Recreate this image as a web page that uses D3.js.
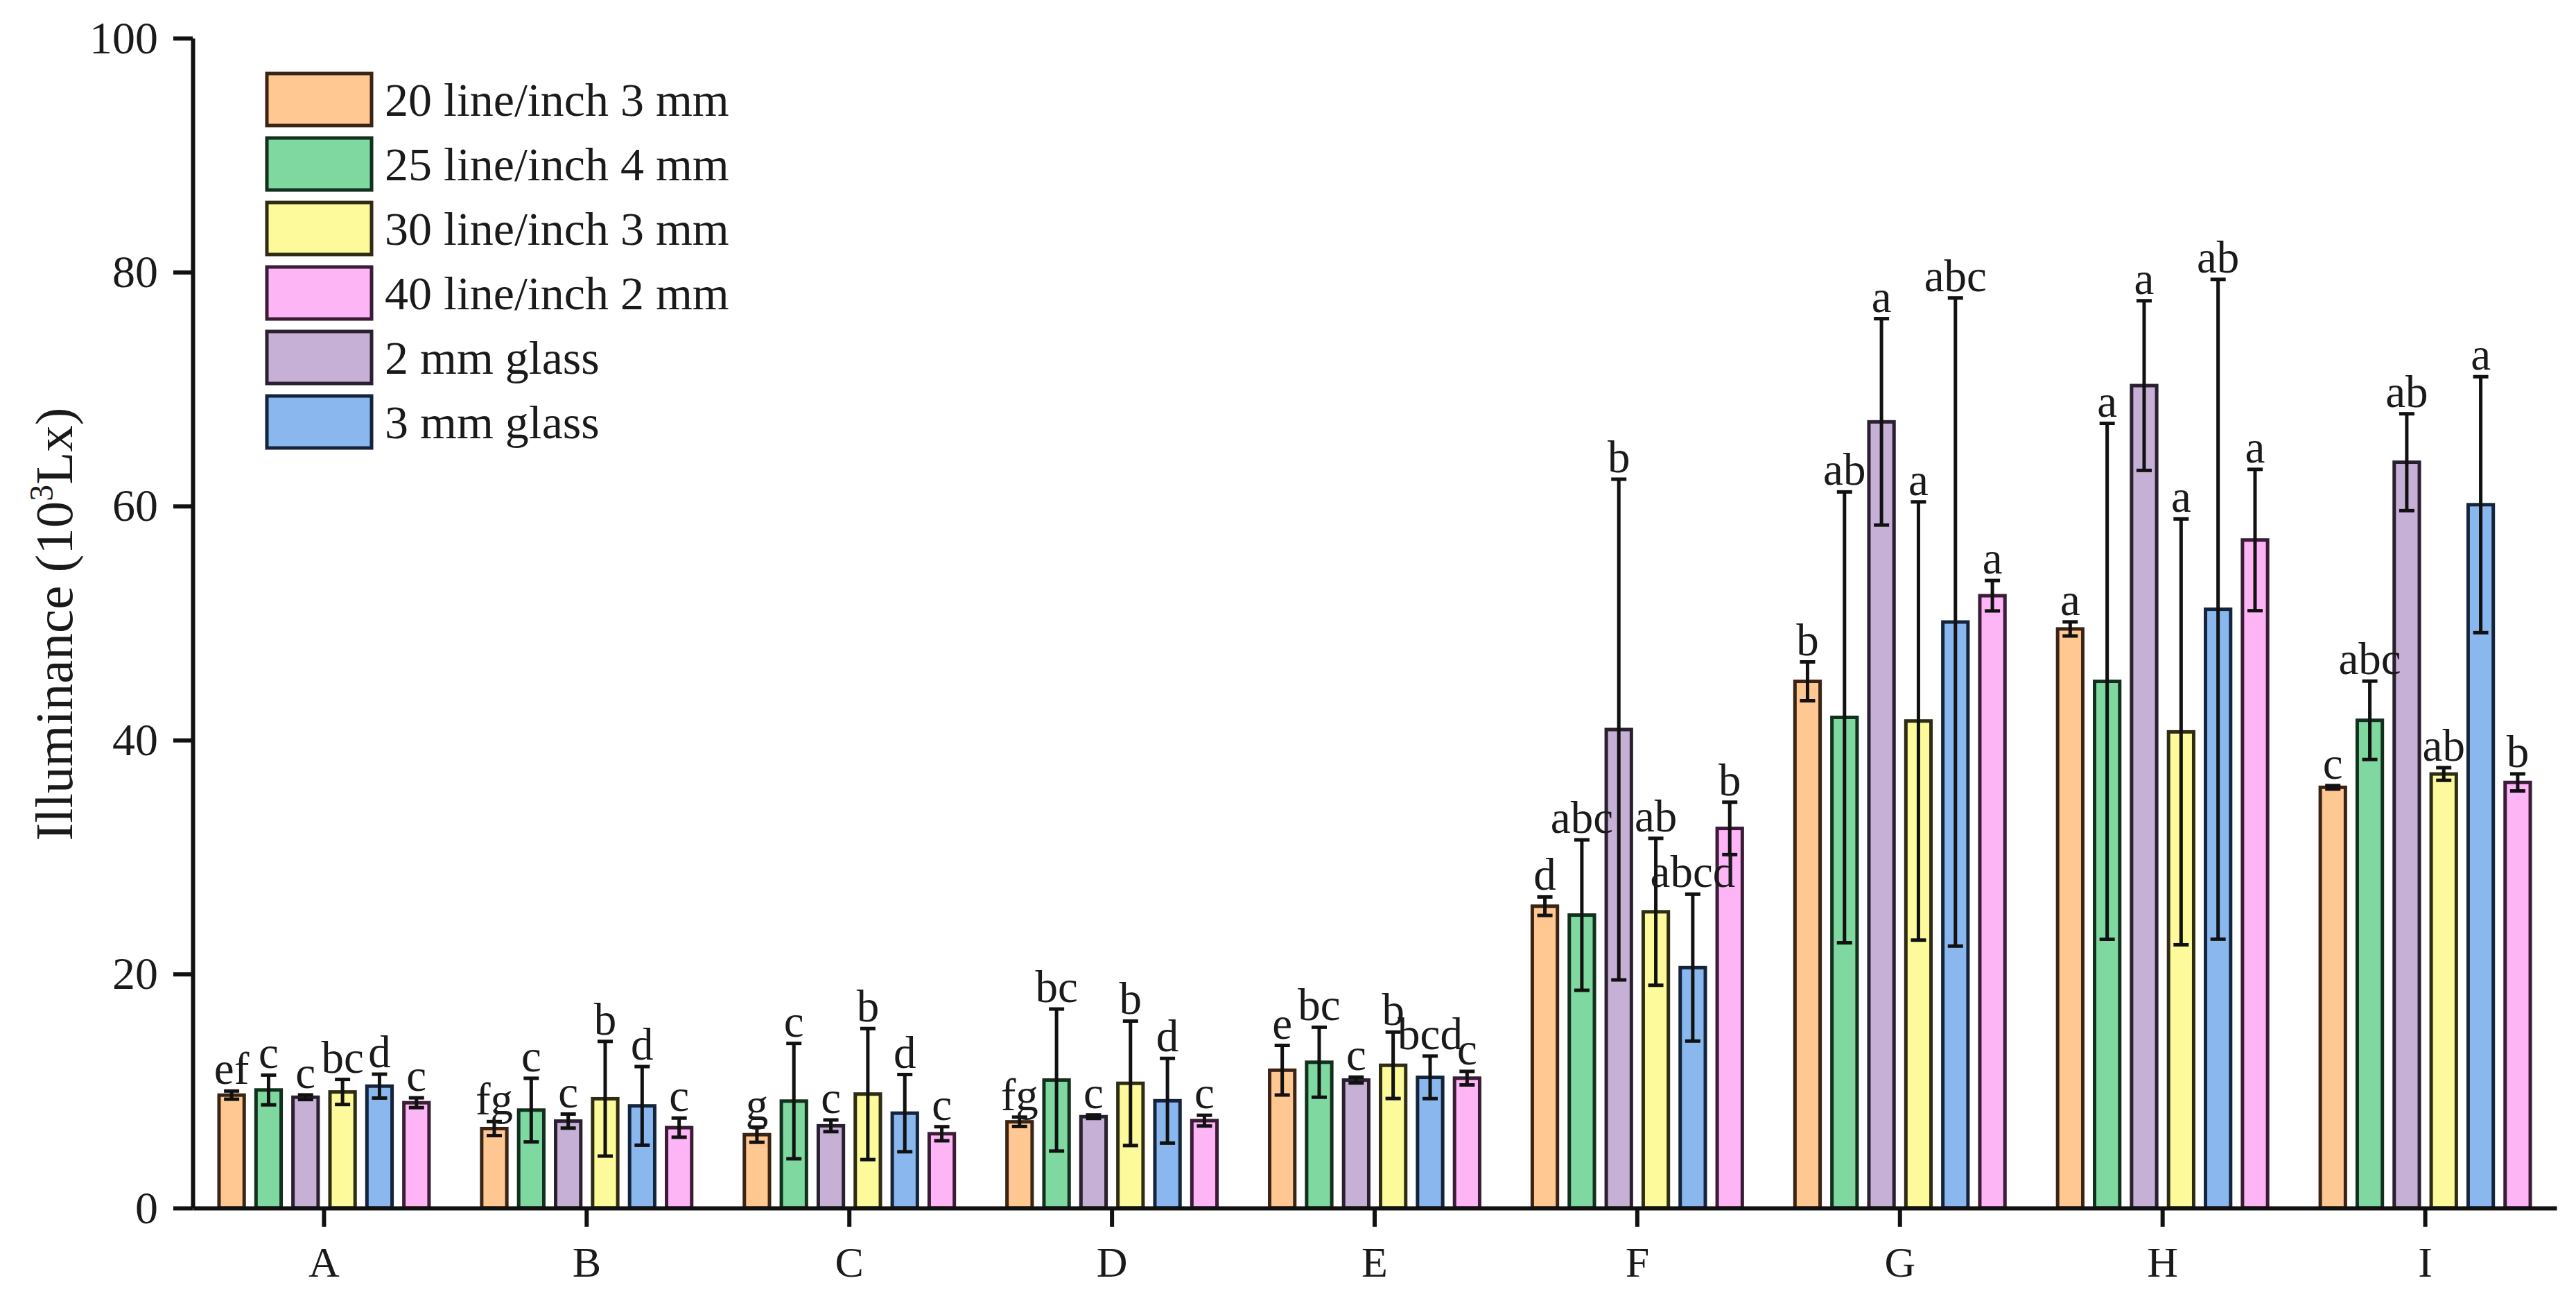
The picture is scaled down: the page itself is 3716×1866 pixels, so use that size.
<!DOCTYPE html>
<html>
<head>
<meta charset="utf-8">
<script src="https://cdn.jsdelivr.net/npm/d3@7"></script>
<style>
  body { margin: 0; background: #fff; }
  text { font-family: "Liberation Serif", "Times New Roman", serif; fill: #1a1a1a; }
</style>
</head>
<body>
<div id="chart"></div>
<script>
// Illuminance per site, six cover types
var categories = ["A", "B", "C", "D", "E", "F", "G", "H", "I"];

// bar order inside each group
var seriesKeys = ["s20", "s25", "g2", "s30", "g3", "s40"];
var seriesNames = {
  s20: "20 line/inch 3 mm",
  s25: "25 line/inch 4 mm",
  s30: "30 line/inch 3 mm",
  s40: "40 line/inch 2 mm",
  g2: "2 mm glass",
  g3: "3 mm glass"
};
// legend order
var legendKeys = ["s20", "s25", "s30", "s40", "g2", "g3"];

var s20 = [9.65, 6.79, 6.27, 7.37, 11.78, 25.8, 45.02, 49.5, 35.96];
var s25 = [10.09, 8.37, 9.14, 10.94, 12.46, 25.04, 41.94, 45.02, 41.69];
var g2  = [9.47, 7.43, 7.03, 7.81, 10.94, 40.9, 67.2, 70.3, 63.75];
var s30 = [9.92, 9.34, 9.74, 10.66, 12.2, 25.32, 41.63, 40.7, 37.1];
var g3  = [10.42, 8.73, 8.11, 9.17, 11.17, 20.55, 50.09, 51.18, 60.12];
var s40 = [9.0, 6.87, 6.35, 7.47, 11.1, 32.45, 52.34, 57.1, 36.38];

var s20Err = [0.35, 0.6, 0.65, 0.4, 2.12, 0.79, 1.66, 0.6, 0.15];
var s25Err = [1.27, 2.72, 4.93, 6.07, 2.99, 6.43, 19.27, 22.05, 3.35];
var g2Err  = [0.2, 0.6, 0.5, 0.15, 0.25, 21.4, 8.82, 7.25, 4.14];
var s30Err = [1.07, 4.9, 5.6, 5.32, 2.84, 6.28, 18.73, 18.2, 0.54];
var g3Err  = [1.02, 3.36, 3.3, 3.62, 1.82, 6.28, 27.7, 28.2, 10.94];
var s40Err = [0.42, 0.82, 0.6, 0.46, 0.58, 2.24, 1.3, 6.04, 0.73];

var s20Sig = ["ef", "fg", "g", "fg", "e", "d", "b", "a", "c"];
var s25Sig = ["c", "c", "c", "bc", "bc", "abc", "ab", "a", "abc"];
var g2Sig  = ["c", "c", "c", "c", "c", "b", "a", "a", "ab"];
var s30Sig = ["bc", "b", "b", "b", "b", "ab", "a", "a", "ab"];
var g3Sig  = ["d", "d", "d", "d", "bcd", "abcd", "abc", "ab", "a"];
var s40Sig = ["c", "c", "c", "c", "c", "b", "a", "a", "b"];

var yTicks = [0, 20, 40, 60, 80, 100];

var means = { s20: s20, s25: s25, g2: g2, s30: s30, g3: g3, s40: s40 };
var errs = { s20: s20Err, s25: s25Err, g2: g2Err, s30: s30Err, g3: g3Err, s40: s40Err };
var sigs = { s20: s20Sig, s25: s25Sig, g2: g2Sig, s30: s30Sig, g3: g3Sig, s40: s40Sig };

var fills = { s20: "#ffc791", s25: "#7fd89f", s30: "#fdfa9b", s40: "#fdb5f6", g2: "#c6b0d6", g3: "#8ab7ee" };
var strokes = { s20: "#3a2416", s25: "#12301d", s30: "#2e2c14", s40: "#3a1c36", g2: "#2a2030", g3: "#14243a" };

var svgWidth = 3716;
var svgHeight = 1866;

var svg = d3.select("#chart")
  .append("svg")
  .attr("width", svgWidth)
  .attr("height", svgHeight);

// scales
var x0 = d3.scaleBand()
  .domain(categories)
  .range([278, 3688])
  .padding(0);

var x1 = d3.scaleBand()
  .domain(seriesKeys)
  .range([-160, 160])
  .paddingInner(0.32)
  .paddingOuter(0.16);

var y = d3.scaleLinear()
  .domain([0, 100])
  .range([1742, 55]);

// flatten for drawing
var rows = [];
categories.forEach(function(c, i) {
  seriesKeys.forEach(function(k) {
    rows.push({ cat: c, key: k, v: means[k][i], e: errs[k][i], sig: sigs[k][i] });
  });
});

function barX(d) { return x0(d.cat) + x0.bandwidth() / 2 + x1(d.key); }
function barMid(d) { return barX(d) + x1.bandwidth() / 2; }

// bars
svg.append("g").selectAll("rect")
  .data(rows)
  .enter().append("rect")
    .attr("x", barX)
    .attr("y", function(d) { return y(d.v); })
    .attr("width", x1.bandwidth())
    .attr("height", function(d) { return y(0) - y(d.v); })
    .attr("fill", function(d) { return fills[d.key]; })
    .attr("stroke", function(d) { return strokes[d.key]; })
    .attr("stroke-width", 5);

// error bars
var eb = svg.append("g")
  .attr("stroke", "#111")
  .attr("stroke-width", 5);

eb.selectAll("line.v")
  .data(rows)
  .enter().append("line")
    .attr("class", "v")
    .attr("x1", barMid).attr("x2", barMid)
    .attr("y1", function(d) { return y(d.v - d.e); })
    .attr("y2", function(d) { return y(d.v + d.e); });

eb.selectAll("line.top")
  .data(rows)
  .enter().append("line")
    .attr("class", "top")
    .attr("x1", function(d) { return barMid(d) - 11; })
    .attr("x2", function(d) { return barMid(d) + 11; })
    .attr("y1", function(d) { return y(d.v + d.e); })
    .attr("y2", function(d) { return y(d.v + d.e); });

eb.selectAll("line.bot")
  .data(rows)
  .enter().append("line")
    .attr("class", "bot")
    .attr("x1", function(d) { return barMid(d) - 11; })
    .attr("x2", function(d) { return barMid(d) + 11; })
    .attr("y1", function(d) { return y(d.v - d.e); })
    .attr("y2", function(d) { return y(d.v - d.e); });

// significance letters
svg.append("g").selectAll("text")
  .data(rows)
  .enter().append("text")
    .attr("x", barMid)
    .attr("y", function(d) { return y(d.v + d.e) - 10; })
    .attr("text-anchor", "middle")
    .style("font-size", "65px")
    .text(function(d) { return d.sig; });

// y axis
var yAxis = svg.append("g")
  .attr("transform", "translate(278,0)")
  .call(d3.axisLeft(y).tickValues(yTicks).tickSize(28).tickSizeOuter(0).tickPadding(22));
yAxis.select(".domain").attr("stroke", "#111").attr("stroke-width", 6);
yAxis.selectAll(".tick line").attr("stroke", "#111").attr("stroke-width", 6);
yAxis.selectAll(".tick text")
  .style("font-size", "66px")
  .style("font-family", "'Liberation Serif', serif")
  .attr("fill", "#1a1a1a");

// x axis
var xAxis = svg.append("g")
  .attr("transform", "translate(0," + y(0) + ")")
  .call(d3.axisBottom(x0).tickSize(27).tickSizeOuter(0).tickPadding(28));
xAxis.select(".domain").attr("stroke", "#111").attr("stroke-width", 6);
xAxis.selectAll(".tick line").attr("stroke", "#111").attr("stroke-width", 6);
xAxis.selectAll(".tick text")
  .style("font-size", "62px")
  .style("font-family", "'Liberation Serif', serif")
  .attr("fill", "#1a1a1a");

// y label
var yl = svg.append("text")
  .attr("transform", "translate(104,900) rotate(-90)")
  .attr("text-anchor", "middle")
  .style("font-size", "77px");
yl.append("tspan").text("Illuminance (10");
yl.append("tspan").attr("dy", -28).style("font-size", "48px").text("3");
yl.append("tspan").attr("dy", 28).text("Lx)");

// legend
var legend = svg.append("g")
  .attr("transform", "translate(385,106)");

var item = legend.selectAll("g")
  .data(legendKeys)
  .enter().append("g")
    .attr("transform", function(d, i) { return "translate(0," + (i * 93) + ")"; });

item.append("rect")
  .attr("width", 151)
  .attr("height", 75)
  .attr("fill", function(d) { return fills[d]; })
  .attr("stroke", function(d) { return strokes[d]; })
  .attr("stroke-width", 5);

item.append("text")
  .attr("x", 170)
  .attr("y", 61)
  .style("font-size", "68px")
  .text(function(d) { return seriesNames[d]; });
</script>
</body>
</html>
